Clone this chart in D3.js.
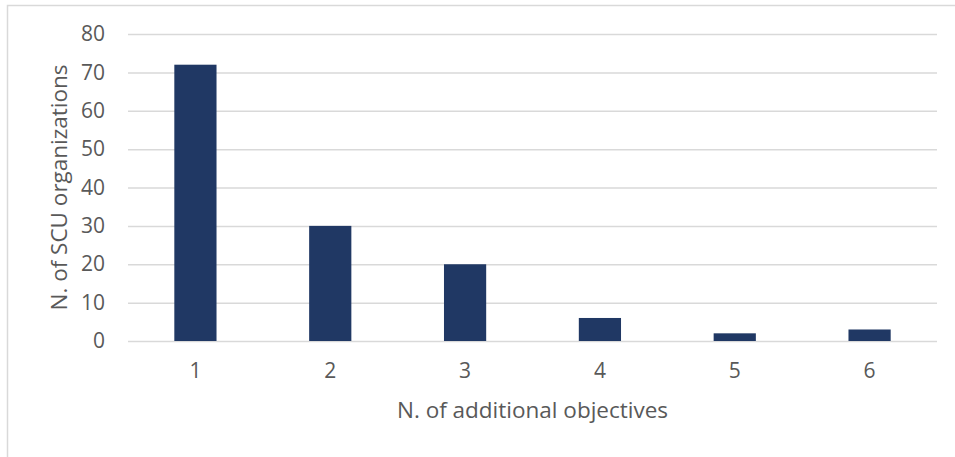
<!DOCTYPE html>
<html>
<head>
<meta charset="utf-8">
<script src="https://cdn.jsdelivr.net/npm/d3@7"></script>
<style>
  html, body { margin: 0; padding: 0; background: #fff; }
  svg { display: block; }
  text { font-family: "Open Sans", "Noto Sans", sans-serif; fill: #595959; }
</style>
</head>
<body>
<div id="chart"></div>
<script>
// Number of additional objectives per SCU organization
const categories = ["1", "2", "3", "4", "5", "6"];
const counts = [72, 30, 20, 6, 2, 3];
const yTicks = [0, 10, 20, 30, 40, 50, 60, 70, 80];
const xTitle = "N. of additional objectives";
const yTitle = "N. of SCU organizations";

const W = 955, H = 457;
const margin = { top: 34, right: 18, bottom: 116, left: 128 };
const innerW = W - margin.left - margin.right;
const innerH = H - margin.top - margin.bottom;

const svg = d3.select("#chart").append("svg")
  .attr("width", W).attr("height", H);

// outer frame
svg.append("rect")
  .attr("x", 7.5).attr("y", 5.5)
  .attr("width", W + 10).attr("height", H + 10)
  .attr("fill", "none").attr("stroke", "#d9d9d9").attr("stroke-width", 1.5);

const g = svg.append("g").attr("transform", `translate(${margin.left},${margin.top})`);

const x = d3.scaleBand().domain(categories).range([0, innerW])
  .paddingInner(0.687).paddingOuter(0.3435);
const y = d3.scaleLinear().domain([0, 80]).range([innerH, 0]);

// gridlines
g.append("g")
  .selectAll("line").data(yTicks).join("line")
  .attr("x1", 0).attr("x2", innerW)
  .attr("y1", d => y(d) + 0.5).attr("y2", d => y(d) + 0.5)
  .attr("stroke", "#d9d9d9").attr("stroke-width", 1.5);

// bars
g.append("g")
  .selectAll("rect").data(categories).join("rect")
  .attr("x", d => x(d))
  .attr("width", x.bandwidth())
  .attr("y", (d, i) => y(counts[i]))
  .attr("height", (d, i) => y(0) - y(counts[i]))
  .attr("fill", "#203864");

// y axis labels
const yAxis = g.append("g")
  .call(d3.axisLeft(y).tickValues(yTicks).tickSize(0).tickPadding(23));
yAxis.select(".domain").remove();
yAxis.selectAll("text").style("font-size", "21px")
  .style("font-family", "'Open Sans', sans-serif").attr("fill", "#595959");

// x axis labels
const xAxis = g.append("g").attr("transform", `translate(0,${innerH})`)
  .call(d3.axisBottom(x).tickSize(0).tickPadding(22));
xAxis.select(".domain").remove();
xAxis.selectAll("text").style("font-size", "21px")
  .style("font-family", "'Open Sans', sans-serif").attr("fill", "#595959");

// axis titles
svg.append("text")
  .attr("x", margin.left + innerW / 2).attr("y", 418)
  .attr("text-anchor", "middle")
  .style("font-size", "22.5px")
  .text(xTitle);

svg.append("text")
  .attr("transform", `translate(67,${margin.top + innerH / 2}) rotate(-90)`)
  .attr("text-anchor", "middle")
  .style("font-size", "22.5px")
  .text(yTitle);
</script>
</body>
</html>
